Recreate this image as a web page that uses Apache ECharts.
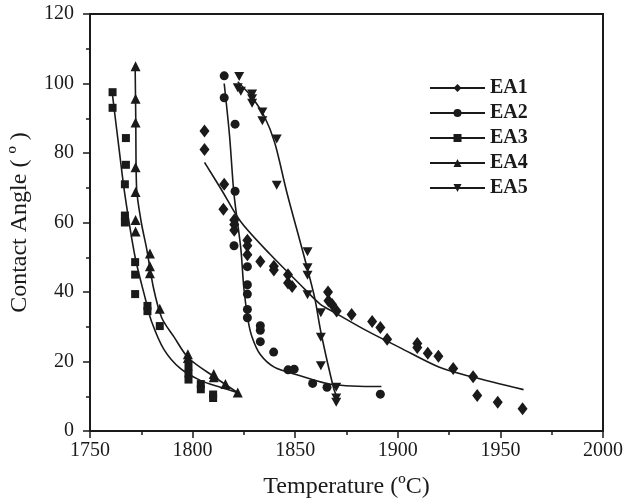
<!DOCTYPE html>
<html>
<head>
<meta charset="utf-8">
<script src="https://cdn.jsdelivr.net/npm/echarts@6/dist/echarts.min.js"></script>
<style>html,body{margin:0;padding:0;background:#fff;}#c{width:626px;height:504px;}</style>
</head>
<body>
<div id="c"></div>
<script>
// ---- data ----
var seriesNames = ['EA1', 'EA2', 'EA3', 'EA4', 'EA5'];
var xTicks = [1750, 1800, 1850, 1900, 1950, 2000];
var yTicks = [0, 20, 40, 60, 80, 100, 120];

var ea1Points = [[1805.8,86.3],[1805.8,81],[1815.4,71],[1815,63.8],[1820.3,60.7],[1820.3,59.4],[1820.3,57.8],[1826.7,54.9],[1826.7,53.3],[1826.7,50.7],[1833,48.8],[1839.6,47.4],[1839.6,46.3],[1846.5,45],[1846.5,42.6],[1848.5,41.6],[1866,40],[1866.2,37.5],[1868,36.4],[1870.2,34.5],[1877.5,33.5],[1887.5,31.5],[1891.5,29.8],[1894.8,26.4],[1909.5,25.2],[1909.5,24],[1914.6,22.4],[1919.8,21.5],[1927,18],[1936.7,15.6],[1938.7,10.2],[1948.7,8.3],[1960.8,6.4]];
var ea2Points = [[1815.4,102.2],[1815.4,95.9],[1820.7,88.3],[1820.7,69],[1820.2,53.3],[1826.7,47.3],[1826.7,42.1],[1826.7,39.4],[1826.7,35],[1826.7,32.6],[1833,30.3],[1833,29],[1833,25.7],[1839.5,22.7],[1846.5,17.6],[1849.5,17.8],[1858.5,13.7],[1865.5,12.6],[1891.5,10.6]];
var ea3Points = [[1761,97.5],[1761,93],[1767.5,84.3],[1767.5,76.6],[1767,71],[1767,62],[1767,60],[1772,48.6],[1772,45],[1772,39.4],[1778,36],[1778,34.5],[1784,30.2],[1798,18.5],[1798,16.5],[1798,14.8],[1804,13.5],[1804,12],[1810,10.5],[1810,9.5]];
var ea4Points = [[1772.2,105],[1772.2,95.6],[1772.2,88.8],[1772.2,75.9],[1772.2,68.8],[1772.2,60.7],[1772.2,57.4],[1779.2,51.1],[1779.2,47.4],[1779.2,45.4],[1784,35.2],[1797.7,22.1],[1797.7,21],[1810.3,16.4],[1810.3,15.5],[1816,13.5],[1822,11.1]];
var ea5Points = [[1822.7,102],[1822,98.8],[1823.5,97.8],[1829,97],[1829,95.6],[1829,94.3],[1834,91.8],[1834,89.3],[1841,84],[1841,70.7],[1856,51.6],[1856,47],[1856,44.8],[1856,39.2],[1862.5,34],[1862.5,27],[1862.5,18.8],[1870,12.6],[1870,9.5],[1870,8.3]];

var ea1Fit = [[1805.8,77.3],[1814,69.5],[1823.5,60.2],[1838,50.7],[1852.5,42.1],[1862,36.6],[1868.6,34.3],[1885,28.8],[1901,24],[1920,18.4],[1936,15.6],[1961.3,11.9]];
var ea2Fit = [[1815.4,100],[1818,85],[1820.2,68],[1823.5,52.5],[1825,41],[1827,32],[1829,27],[1833,22],[1840,18.3],[1852,16],[1868,13.4],[1892,12.8]];
var ea3Fit = [[1761,96.5],[1764,82],[1767,68],[1772,50],[1777,38],[1780,31.5],[1786,23.5],[1794,18],[1804,14.5],[1814,12.5],[1822,11]];
var ea4Fit = [[1772,105],[1772.3,90],[1772.7,70],[1775,60],[1777.6,52.5],[1781,41],[1785,32.5],[1791,27],[1798,21],[1811,15.4],[1822,11]];
var ea5Fit = [[1822,100.5],[1829,96],[1835,90.5],[1840,83],[1846,68.5],[1854,51],[1859.5,38.3],[1862.5,28.5],[1868.6,12.6],[1870.5,9.5]];

var pointSets = [ea1Points, ea2Points, ea3Points, ea4Points, ea5Points];
var fitSets = [ea1Fit, ea2Fit, ea3Fit, ea4Fit, ea5Fit];

// ---- styling ----
var downTri = 'path://M0,0 L10,0 L5,9 Z';
var symbols = ['diamond', 'circle', 'rect', 'triangle', downTri];
var symbolSizes = [[10, 13], 9, 8, [10, 10], [10, 9]];
var ink = '#1a1a1a';
var serif = '"Liberation Serif", "DejaVu Serif", serif';

var series = [];
fitSets.forEach(function (fit, i) {
  series.push({
    name: seriesNames[i],
    type: 'line',
    data: fit,
    smooth: 0.3,
    symbol: symbols[i],
    showSymbol: false,
    lineStyle: { color: ink, width: 1.6 },
    itemStyle: { color: ink },
    silent: true,
    z: 3
  });
});
pointSets.forEach(function (pts, i) {
  series.push({
    name: seriesNames[i] + ' data',
    type: 'scatter',
    data: pts,
    symbol: symbols[i],
    symbolSize: symbolSizes[i],
    itemStyle: { color: ink, opacity: 1 },
    z: 2
  });
});

var chart = echarts.init(document.getElementById('c'), null, { renderer: 'canvas' });
chart.setOption({
  animation: false,
  backgroundColor: '#ffffff',
  grid: { left: 88, right: 21, top: 14, bottom: 70, show: true, borderColor: ink, borderWidth: 2, backgroundColor: 'transparent' },
  legend: {
    data: seriesNames,
    orient: 'vertical',
    left: 429,
    top: 78,
    padding: 0,
    itemWidth: 55,
    itemHeight: 10,
    itemGap: 5,
    textStyle: { fontFamily: serif, fontSize: 20, fontWeight: 'bold', color: ink, lineHeight: 20 }
  },
  xAxis: {
    type: 'value',
    min: xTicks[0],
    max: xTicks[xTicks.length - 1],
    interval: 50,
    name: 'Temperature (ºC)',
    nameLocation: 'middle',
    nameGap: 44,
    nameTextStyle: { fontFamily: serif, fontSize: 24, color: ink },
    axisLine: { show: true, lineStyle: { color: ink, width: 2 } },
    axisTick: { show: true, inside: false, length: 7, lineStyle: { color: ink, width: 1.5 } },
    minorTick: { show: true, splitNumber: 2, length: 4, lineStyle: { color: ink, width: 1.5 } },
    axisLabel: { fontFamily: serif, fontSize: 20, color: ink, margin: 10, formatter: function (v) { return String(v); } },
    splitLine: { show: false }
  },
  yAxis: {
    type: 'value',
    min: yTicks[0],
    max: yTicks[yTicks.length - 1],
    interval: 20,
    name: 'Contact Angle ( º )',
    nameLocation: 'middle',
    nameGap: 58,
    nameTextStyle: { fontFamily: serif, fontSize: 24, color: ink },
    axisLine: { show: true, lineStyle: { color: ink, width: 2 } },
    axisTick: { show: true, inside: false, length: 7, lineStyle: { color: ink, width: 1.5 } },
    minorTick: { show: true, splitNumber: 2, length: 4, lineStyle: { color: ink, width: 1.5 } },
    axisLabel: { fontFamily: serif, fontSize: 20, color: ink, margin: 16, formatter: function (v) { return String(v); } },
    splitLine: { show: false }
  },
  series: series
});
</script>
</body>
</html>
